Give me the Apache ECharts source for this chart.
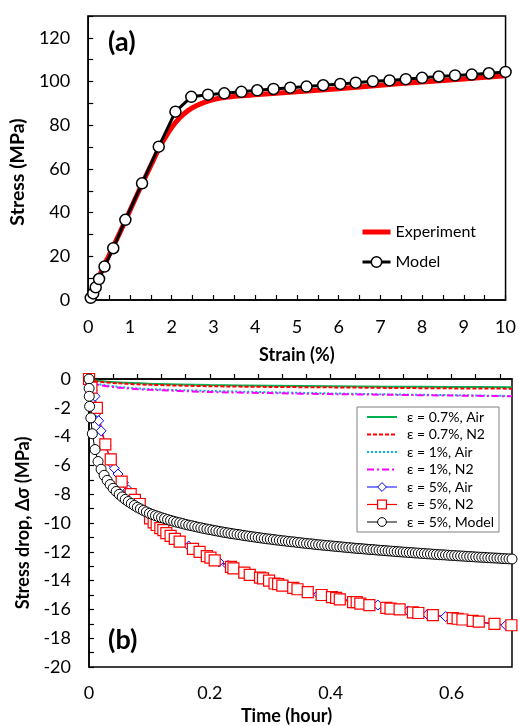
<!DOCTYPE html>
<html>
<head>
<meta charset="utf-8">
<script src="https://cdn.jsdelivr.net/npm/echarts@6/dist/echarts.min.js"></script>
<style>html,body{margin:0;padding:0;background:#fff}#c{width:519px;height:726px}</style>
</head>
<body>
<div id="c"></div>
<script>
// ---------- (a) stress-strain ----------
var strainTicks = [0,1,2,3,4,5,6,7,8,9,10];
var stressTicks = [0,20,40,60,80,100,120];
var experiment = [[0,0],[0.1,3.5],[0.2,8],[0.3,12.5],[0.5,20.5],[0.75,30.5],[1.0,41],[1.25,51.5],[1.5,61.5],[1.7,69.5],[1.85,74.5],[2.0,79],[2.2,83.5],[2.4,86.8],[2.6,89],[2.8,90.6],[3.0,91.8],[3.3,92.8],[3.6,93.4],[4.0,94.0],[5,95.3],[6,96.7],[7,98.3],[8,99.8],[9,101.2],[10,102.6]];
var modelStress = [[0.06,1.0],[0.12,3.0],[0.18,5.8],[0.26,9.6],[0.39,15.3],[0.6,23.7],[0.89,36.7],[1.29,53.4],[1.69,70.2],[2.09,86.2],[2.47,93.0],[2.87,94.0],[3.26,94.6],[3.67,95.3],[4.05,96.0],[4.44,96.6],[4.84,97.2],[5.23,97.7],[5.63,98.3],[6.04,98.9],[6.41,99.5],[6.82,100.1],[7.22,100.5],[7.61,101.1],[8.0,101.7],[8.4,102.3],[8.79,102.8],[9.19,103.2],[9.6,103.8],[10.0,104.4]];

// ---------- (b) stress relaxation ----------
var timeTicks = [0,0.2,0.4,0.6];
var dropTicks = [0,-2,-4,-6,-8,-10,-12,-14,-16,-18,-20];
var air07 = [[0,0],[0.01,-0.1],[0.05,-0.25],[0.1,-0.33],[0.2,-0.42],[0.3,-0.47],[0.4,-0.5],[0.5,-0.53],[0.6,-0.55],[0.7,-0.57]];
var n207 = [[0,0],[0.01,-0.15],[0.05,-0.3],[0.1,-0.4],[0.2,-0.5],[0.3,-0.55],[0.4,-0.58],[0.5,-0.62],[0.6,-0.65],[0.7,-0.67]];
var air1 = [[0,0],[0.01,-0.3],[0.05,-0.55],[0.1,-0.7],[0.2,-0.83],[0.3,-0.92],[0.4,-1.0],[0.5,-1.07],[0.6,-1.12],[0.7,-1.18]];
var n21 = [[0,0],[0.01,-0.35],[0.05,-0.6],[0.1,-0.75],[0.2,-0.9],[0.3,-0.98],[0.4,-1.05],[0.5,-1.1],[0.6,-1.15],[0.7,-1.2]];
var air5 = [[0,0],[0.005,-0.8],[0.01,-1.2],[0.014,-2.3],[0.016,-2.9],[0.02,-3.6],[0.028,-4.6],[0.036,-5.8],[0.042,-6.2],[0.048,-6.6],[0.057,-7.2],[0.065,-7.7],[0.08,-8.5],[0.1,-9.6],[0.115,-10.2],[0.13,-10.8],[0.145,-11.1],[0.165,-11.6],[0.19,-12.2],[0.215,-12.7],[0.23,-12.95],[0.255,-13.4],[0.275,-13.7],[0.3,-14.1],[0.33,-14.4],[0.36,-14.75],[0.38,-14.95],[0.41,-15.2],[0.44,-15.45],[0.478,-15.7],[0.5,-15.9],[0.528,-16.1],[0.56,-16.35],[0.59,-16.5],[0.62,-16.7],[0.644,-16.9],[0.67,-17.0],[0.69,-17.1]];
var n25 = [[0,0],[0.004,-0.6],[0.013,-2.0],[0.027,-4.54],[0.036,-5.58],[0.054,-7.13],[0.069,-8.0],[0.076,-8.4],[0.084,-8.68],[0.101,-9.68],[0.107,-9.95],[0.112,-10.14],[0.118,-10.35],[0.123,-10.5],[0.128,-10.7],[0.135,-10.9],[0.142,-11.1],[0.15,-11.3],[0.172,-11.8],[0.183,-12.0],[0.195,-12.3],[0.201,-12.4],[0.208,-12.6],[0.235,-13.05],[0.239,-13.15],[0.257,-13.45],[0.266,-13.6],[0.283,-13.8],[0.288,-13.85],[0.298,-14.0],[0.307,-14.2],[0.313,-14.25],[0.32,-14.35],[0.338,-14.5],[0.345,-14.6],[0.362,-14.8],[0.385,-15.0],[0.402,-15.15],[0.409,-15.2],[0.415,-15.3],[0.437,-15.5],[0.443,-15.5],[0.449,-15.6],[0.464,-15.7],[0.492,-15.9],[0.499,-15.95],[0.514,-16.0],[0.536,-16.2],[0.545,-16.25],[0.569,-16.4],[0.602,-16.6],[0.61,-16.65],[0.618,-16.7],[0.635,-16.8],[0.645,-16.85],[0.671,-17.0],[0.699,-17.1]];
var model5 = [[0,0],[0.0002,-0.65],[0.0004,-1.2],[0.001,-1.9],[0.003,-2.7],[0.0055,-3.8],[0.01,-4.9],[0.015,-5.73],[0.02,-6.27],[0.025,-6.69],[0.03,-7.04],[0.035,-7.33],[0.04,-7.59],[0.045,-7.81],[0.05,-8.01],[0.055,-8.19],[0.06,-8.36],[0.065,-8.51],[0.07,-8.65],[0.075,-8.78],[0.08,-8.91],[0.085,-9.02],[0.09,-9.13],[0.095,-9.23],[0.1,-9.33],[0.105,-9.41],[0.11,-9.49],[0.115,-9.56],[0.12,-9.63],[0.125,-9.69],[0.13,-9.76],[0.135,-9.82],[0.14,-9.88],[0.145,-9.94],[0.15,-9.99],[0.155,-10.04],[0.16,-10.1],[0.165,-10.15],[0.17,-10.19],[0.175,-10.24],[0.18,-10.29],[0.185,-10.33],[0.19,-10.38],[0.195,-10.42],[0.2,-10.46],[0.205,-10.5],[0.21,-10.54],[0.215,-10.58],[0.22,-10.62],[0.225,-10.66],[0.23,-10.69],[0.235,-10.73],[0.24,-10.76],[0.245,-10.79],[0.25,-10.82],[0.255,-10.86],[0.26,-10.89],[0.265,-10.92],[0.27,-10.95],[0.275,-10.98],[0.28,-11.01],[0.285,-11.04],[0.29,-11.07],[0.295,-11.1],[0.3,-11.12],[0.305,-11.15],[0.31,-11.18],[0.315,-11.2],[0.32,-11.23],[0.325,-11.25],[0.33,-11.28],[0.335,-11.3],[0.34,-11.32],[0.345,-11.35],[0.35,-11.37],[0.355,-11.4],[0.36,-11.42],[0.365,-11.44],[0.37,-11.46],[0.375,-11.49],[0.38,-11.51],[0.385,-11.53],[0.39,-11.55],[0.395,-11.57],[0.4,-11.59],[0.405,-11.61],[0.41,-11.63],[0.415,-11.65],[0.42,-11.67],[0.425,-11.69],[0.43,-11.71],[0.435,-11.73],[0.44,-11.75],[0.445,-11.77],[0.45,-11.78],[0.455,-11.8],[0.46,-11.82],[0.465,-11.84],[0.47,-11.85],[0.475,-11.87],[0.48,-11.89],[0.485,-11.9],[0.49,-11.92],[0.495,-11.94],[0.5,-11.95],[0.505,-11.97],[0.51,-11.99],[0.515,-12.0],[0.52,-12.02],[0.525,-12.03],[0.53,-12.05],[0.535,-12.06],[0.54,-12.08],[0.545,-12.09],[0.55,-12.11],[0.555,-12.12],[0.56,-12.14],[0.565,-12.15],[0.57,-12.17],[0.575,-12.18],[0.58,-12.2],[0.585,-12.21],[0.59,-12.22],[0.595,-12.24],[0.6,-12.25],[0.605,-12.26],[0.61,-12.28],[0.615,-12.29],[0.62,-12.3],[0.625,-12.32],[0.63,-12.33],[0.635,-12.34],[0.64,-12.36],[0.645,-12.37],[0.65,-12.38],[0.655,-12.39],[0.66,-12.41],[0.665,-12.42],[0.67,-12.43],[0.675,-12.44],[0.68,-12.45],[0.685,-12.47],[0.69,-12.48],[0.695,-12.49],[0.7,-12.5]];

var FONT = 'Lato';
function near(v, list){ for (var i=0;i<list.length;i++){ if (Math.abs(v-list[i])<1e-6) return true; } return false; }
var axisLineStyle = {lineStyle:{color:'#000', width:1.5}};
var tickStyle = {show:true, inside:true, length:5, lineStyle:{color:'#000', width:1.2}};
var noSym = {color:'transparent', borderColor:'transparent', borderWidth:0, opacity:0};

var chart = echarts.init(document.getElementById('c'), null, {renderer:'canvas'});
chart.setOption({
  animation:false,
  backgroundColor:'#fff',
  textStyle:{fontFamily:FONT},
  title:[
    {text:'(a)', left:103, top:24, textStyle:{fontFamily:FONT, fontSize:27, fontWeight:'bold', color:'#000'}},
    {text:'(b)', left:103, top:622, textStyle:{fontFamily:FONT, fontSize:27, fontWeight:'bold', color:'#000'}}
  ],
  grid:[
    {left:88, top:16, width:423, height:284, show:true, borderColor:'#000', borderWidth:1.5, backgroundColor:'transparent'},
    {left:89, top:379, width:423, height:288, show:true, borderColor:'#000', borderWidth:1.5, backgroundColor:'transparent'}
  ],
  legend:[
    {orient:'vertical', left:360, top:224, padding:0, itemGap:14, itemWidth:28, itemHeight:13,
     textStyle:{fontFamily:FONT, fontSize:16, color:'#000', lineHeight:16},
     data:[
       {name:'Experiment', lineStyle:{width:5}, itemStyle:noSym},
       {name:'Model', lineStyle:{width:3}, itemStyle:{borderWidth:1.5}}
     ]},
    {orient:'vertical', left:357, top:407, padding:[3,5,3,9], itemGap:3.5, itemWidth:30, itemHeight:11,
     borderColor:'#7f7f7f', borderWidth:1, backgroundColor:'#fff',
     textStyle:{fontFamily:FONT, fontSize:14, color:'#000', lineHeight:14, padding:[0,0,0,5]},
     data:[
       {name:'ε = 0.7%, Air', lineStyle:{width:2}, itemStyle:noSym},
       {name:'ε = 0.7%, N2', lineStyle:{width:2}, itemStyle:noSym},
       {name:'ε = 1%, Air', lineStyle:{width:2}, itemStyle:noSym},
       {name:'ε = 1%, N2', lineStyle:{width:2}, itemStyle:noSym},
       {name:'ε = 5%, Air', lineStyle:{width:1}, itemStyle:{borderWidth:1}},
       {name:'ε = 5%, N2', lineStyle:{width:1.2}, itemStyle:{borderWidth:1.2}},
       {name:'ε = 5%, Model', lineStyle:{width:1}, itemStyle:{borderWidth:1}}
     ]}
  ],
  xAxis:[
    {type:'value', gridIndex:0, min:0, max:10, interval:0.5,
     axisLine:axisLineStyle, axisTick:tickStyle, splitLine:{show:false},
     axisLabel:{color:'#000', fontSize:18, margin:18, formatter:function(v){return near(v,strainTicks)?String(v):'';}},
     name:'Strain (%)', nameLocation:'middle', nameGap:46,
     nameTextStyle:{color:'#000', fontSize:18, fontWeight:'bold', fontFamily:FONT}},
    {type:'value', gridIndex:1, min:0, max:0.7, interval:0.04,
     axisLine:axisLineStyle, axisTick:tickStyle, splitLine:{show:false},
     axisLabel:{color:'#000', fontSize:18, margin:17, showMaxLabel:false, formatter:function(v){return near(v,timeTicks)?String(v):'';}},
     name:'Time (hour)', nameLocation:'middle', nameGap:40,
     nameTextStyle:{color:'#000', fontSize:18, fontWeight:'bold', fontFamily:FONT, padding:[0,28,0,0]}}
  ],
  yAxis:[
    {type:'value', gridIndex:0, min:0, max:130, interval:10,
     axisLine:axisLineStyle, axisTick:tickStyle, splitLine:{show:false},
     axisLabel:{color:'#000', fontSize:18, margin:18, formatter:function(v){return near(v,stressTicks)?String(v):'';}},
     name:'Stress (MPa)', nameLocation:'middle', nameGap:52, nameRotate:90,
     nameTextStyle:{color:'#000', fontSize:19.5, fontWeight:'bold', fontFamily:FONT, padding:[0,28,0,0]}},
    {type:'value', gridIndex:1, min:-20, max:0, interval:1,
     axisLine:axisLineStyle, axisTick:tickStyle, splitLine:{show:false},
     axisLabel:{color:'#000', fontSize:18, margin:18, formatter:function(v){return near(v,dropTicks)?String(v):'';}},
     name:'Stress drop, Δσ (MPa)', nameLocation:'middle', nameGap:56, nameRotate:90,
     nameTextStyle:{color:'#000', fontSize:18, fontWeight:'bold', fontFamily:FONT}}
  ],
  series:[
    {name:'Experiment', type:'line', xAxisIndex:0, yAxisIndex:0, data:experiment, smooth:0.3,
     symbol:'none', lineStyle:{color:'#ff0000', width:5}, itemStyle:{color:'#ff0000'}},
    {name:'Model', type:'line', xAxisIndex:0, yAxisIndex:0, data:modelStress,
     symbol:'circle', symbolSize:11, lineStyle:{color:'#000', width:3},
     itemStyle:{color:'#fff', borderColor:'#000', borderWidth:1.5}},
    {name:'ε = 0.7%, Air', type:'line', xAxisIndex:1, yAxisIndex:1, data:air07, smooth:0.3,
     symbol:'none', lineStyle:{color:'#00b050', width:2}, itemStyle:{color:'#00b050'}},
    {name:'ε = 0.7%, N2', type:'line', xAxisIndex:1, yAxisIndex:1, data:n207, smooth:0.3,
     symbol:'none', lineStyle:{color:'#ff0000', width:2, type:[4,2]}, itemStyle:{color:'#ff0000'}},
    {name:'ε = 1%, Air', type:'line', xAxisIndex:1, yAxisIndex:1, data:air1, smooth:0.3,
     symbol:'none', lineStyle:{color:'#00b0f0', width:2, type:[2,2]}, itemStyle:{color:'#00b0f0'}},
    {name:'ε = 1%, N2', type:'line', xAxisIndex:1, yAxisIndex:1, data:n21, smooth:0.3,
     symbol:'none', lineStyle:{color:'#ff00ff', width:2, type:[7,3,2,3]}, itemStyle:{color:'#ff00ff'}},
    {name:'ε = 5%, Air', type:'line', xAxisIndex:1, yAxisIndex:1, data:air5,
     symbol:'diamond', symbolSize:10, lineStyle:{color:'#0000ff', width:1},
     itemStyle:{color:'#fff', borderColor:'#0000ff', borderWidth:1}},
    {name:'ε = 5%, N2', type:'line', xAxisIndex:1, yAxisIndex:1, data:n25,
     symbol:'rect', symbolSize:11, lineStyle:{color:'#ff0000', width:1.2},
     itemStyle:{color:'#fff', borderColor:'#ff0000', borderWidth:1.2}},
    {name:'ε = 5%, Model', type:'line', xAxisIndex:1, yAxisIndex:1, data:model5,
     symbol:'circle', symbolSize:10, lineStyle:{color:'#000', width:1},
     itemStyle:{color:'#fff', borderColor:'#000', borderWidth:1}}
  ]
});
</script>
</body>
</html>
